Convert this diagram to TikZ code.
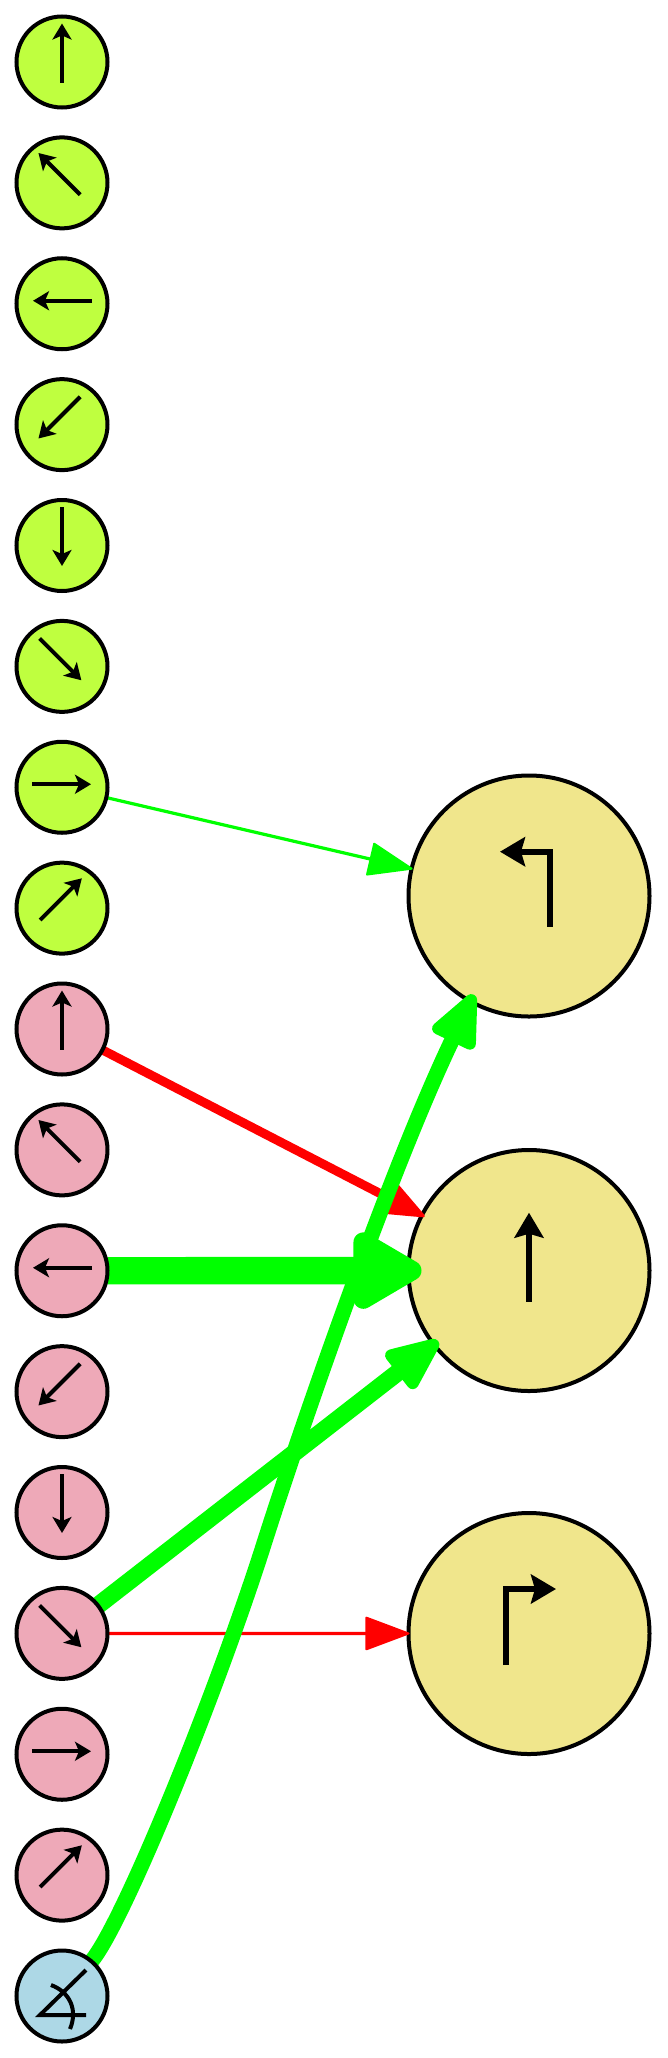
\documentclass[tikz,border=0pt]{standalone}
\usetikzlibrary{arrows.meta}
\definecolor{mauluc}{HTML}{BFFF3F}
\definecolor{mauhong}{HTML}{EEA9B8}
\definecolor{maulam}{HTML}{ADD8E6}
\definecolor{mauvang}{HTML}{F0E68C}
\pgfdeclarelayer{lopnen}
\pgfdeclarelayer{lopcanh}
\pgfsetlayers{lopnen,lopcanh,main}
\tikzset{
	nhonode/.style={circle,draw=black,line width=4pt,inner sep=0pt,outer sep=0pt,minimum size=91pt},
	tonode/.style={circle,draw=black,line width=4pt,inner sep=0pt,outer sep=0pt,minimum size=241pt,fill=mauvang},
	muiten/.style={line width=4pt,-{Stealth[length=16pt,width=19pt,inset=4pt]}},
	muitento/.style={line width=5.7pt,-{Stealth[length=25pt,width=29pt,inset=4pt]}},
	canhmanh/.style={line width=3.2pt,shorten >=-1pt,-{Triangle[round,length=46pt,width=34pt,line width=2pt]}},
	canhvua/.style={line width=9pt,shorten >=-3pt,-{Triangle[round,length=44pt,width=35pt,line width=3pt]}},
	canhday/.style={line width=17.5pt,shorten >=-5.5pt,-{Triangle[round,length=62pt,width=50pt,line width=12pt]}},
	canhrat/.style={line width=27.4pt,shorten >=-13pt,-{Triangle[round,length=79pt,width=85pt,line width=24pt]}}
}
\begin{document}
\begin{tikzpicture}[x=1pt,y=-1pt]
	\useasboundingbox (0,0) rectangle (667,2058);
	\foreach \k in {0,...,7}{
		\node[nhonode,fill=mauluc] (A\k) at (62,{62+120.875*\k}) {};
		\node[nhonode,fill=mauhong] (B\k) at (62,{62+120.875*(\k+8)}) {};
	}
	\node[nhonode,fill=maulam] (C) at (62,1996) {};
	\begin{pgfonlayer}{lopnen}
		\node[tonode] (T) at (529,896) {};
		\node[tonode] (G) at (529,1270.5) {};
		\node[tonode] (D) at (529,1633.5) {};
	\end{pgfonlayer}
	\foreach \n in {A,B}{
		\foreach \k/\goc/\dx/\dy in {0/90/0/-9,1/135/-2.7/-9,2/180/0.5/-3,3/225/-2.7/-7,
			4/270/0/-9,5/315/-1.5/-7,6/0/-0.5/-3,7/45/-1/-9}{
			\draw[muiten] (\n\k)++(\dx,\dy)++(\goc+180:29.5pt) -- ++(\goc:59pt);
		}
	}
	\draw[line width=4pt] (86,1970) -- (40,2015) -- (86,2015);
	\draw[line width=4pt] (51,1985) .. controls (70,1992) and (78,2010) .. (70,2029);
	\draw[muitento] (550,926.7) -- (550,851.7) -- (500,851.7);
	\draw[muitento] (529,1301.7) -- (529,1212.7);
	\draw[muitento] (506,1665) -- (506,1589) -- (556,1589);
	\begin{pgfonlayer}{lopcanh}
		\draw[canhvua,red] (B0) -- (G);
		\draw[canhmanh,red] (B5) -- (D);
		\draw[canhmanh,green] (A6) -- (T);
		\draw[canhrat,green] (B2) -- (G);
		\draw[canhday,green] (B5) -- (G);
		\path (262,1550) coordinate (U);
		\draw[canhday,green,line width=15.5pt,shorten >=-7.5pt] (C) .. controls (122,1925) and (212,1705) .. (U)
			.. controls (300,1430) and (390,1170) .. (T.241.4);
	\end{pgfonlayer}
\end{tikzpicture}
\end{document}
